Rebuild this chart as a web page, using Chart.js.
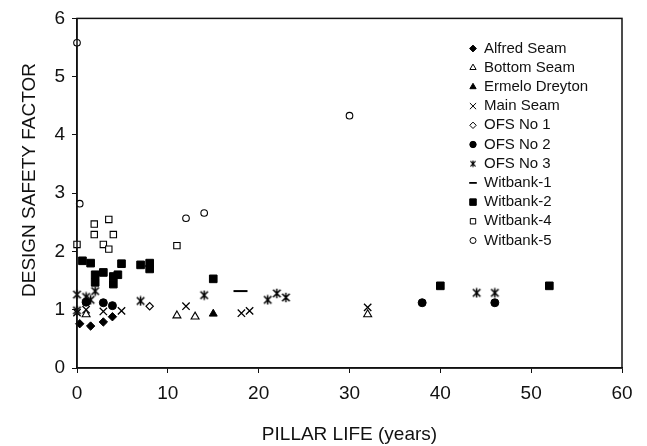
<!DOCTYPE html>
<html>
<head>
<meta charset="utf-8">
<script src="https://cdn.jsdelivr.net/npm/chart.js@4.4.1/dist/chart.umd.min.js"></script>
<style>
  html, body { margin: 0; padding: 0; background: #fff; }
  #chart { display: block; }
</style>
</head>
<body>
<canvas id="chart" width="647" height="446"></canvas>
<script>
// Datos (vida del pilar en años, factor de seguridad)
const seriesNames = ['Alfred Seam', 'Bottom Seam', 'Ermelo Dreyton', 'Main Seam', 'OFS No 1',
    'OFS No 2', 'OFS No 3', 'Witbank-1', 'Witbank-2', 'Witbank-4', 'Witbank-5'];

const alfredX = [0.3, 1.5, 2.9, 3.9];
const alfredY = [0.76, 0.72, 0.79, 0.88];

const bottomX = [1.0, 11, 13, 32];
const bottomY = [0.92, 0.90, 0.88, 0.92];

const ermeloX = [15];
const ermeloY = [0.93];

const mainX = [0, 1.0, 2.9, 4.9, 12, 18.1, 19, 32];
const mainY = [0.95, 1.0, 0.97, 0.98, 1.06, 0.94, 0.98, 1.04];

const ofs1X = [8];
const ofs1Y = [1.06];

const ofs2X = [1.0, 2.9, 3.9, 38, 46];
const ofs2Y = [1.13, 1.12, 1.07, 1.12, 1.12];

const ofs3X = [0, 0, 1.0, 1.5, 2.0, 7, 14, 21, 22, 23, 44, 46];
const ofs3Y = [1.26, 0.99, 1.22, 1.17, 1.32, 1.15, 1.25, 1.17, 1.28, 1.21, 1.29, 1.29];

const wit1X = [18];
const wit1Y = [1.32];

const wit2X = [0.6, 1.5, 2.0, 2.0, 2.9, 4.0, 4.0, 4.5, 4.9, 7.0, 8.0, 8.0, 15, 40, 52];
const wit2Y = [1.84, 1.80, 1.60, 1.47, 1.64, 1.57, 1.44, 1.60, 1.79, 1.77, 1.80, 1.70, 1.53, 1.41, 1.41];

const wit4X = [0, 1.9, 1.9, 2.9, 3.5, 3.5, 4.0, 11];
const wit4Y = [2.12, 2.47, 2.29, 2.12, 2.55, 2.04, 2.29, 2.10];

const wit5X = [0, 0.3, 12, 14, 30];
const wit5Y = [5.58, 2.82, 2.57, 2.66, 4.33];

const xTicks = [0, 10, 20, 30, 40, 50, 60];
const yTicks = [0, 1, 2, 3, 4, 5, 6];
const xTitle = 'PILLAR LIFE (years)';
const yTitle = 'DESIGN SAFETY FACTOR';

const allX = [alfredX, bottomX, ermeloX, mainX, ofs1X, ofs2X, ofs3X, wit1X, wit2X, wit4X, wit5X];
const allY = [alfredY, bottomY, ermeloY, mainY, ofs1Y, ofs2Y, ofs3Y, wit1Y, wit2Y, wit4Y, wit5Y];

// Marcador tipo asterisco (x con barra vertical)
function makeStar(size, lw) {
    const c = document.createElement('canvas');
    c.width = size;
    c.height = size;
    const g = c.getContext('2d');
    g.strokeStyle = '#000';
    g.lineWidth = lw;
    const m = size / 2, r = size / 2 - 0.8;
    g.beginPath();
    g.moveTo(m - r * 0.8, m - r * 0.8); g.lineTo(m + r * 0.8, m + r * 0.8);
    g.moveTo(m + r * 0.8, m - r * 0.8); g.lineTo(m - r * 0.8, m + r * 0.8);
    g.moveTo(m, m - r); g.lineTo(m, m + r);
    g.stroke();
    return c;
}
const starBig = makeStar(11, 1.5);
const starSmall = makeStar(8, 1.2);

// Estilos de cada serie (grafico y leyenda)
const styles = [
    { style: 'rectRot', r: 4.2, fill: '#000', lw: 1, lr: 3.4 },
    { style: 'triangle', r: 4.6, fill: '#fff', lw: 1.1, lr: 3.6 },
    { style: 'triangle', r: 4.6, fill: '#000', lw: 1, lr: 3.6 },
    { style: 'crossRot', r: 5.2, fill: '#000', lw: 1.3, lr: 4.4 },
    { style: 'rectRot', r: 3.7, fill: '#fff', lw: 1.1, lr: 3.2 },
    { style: 'circle', r: 4, fill: '#000', lw: 1, lr: 3.2 },
    { style: starBig, r: 5.5, fill: '#000', lw: 1, lr: 4, legendStyle: starSmall },
    { style: 'line', r: 7, fill: '#000', lw: 2, lr: 3.8 },
    { style: 'rect', r: 5.4, fill: '#000', lw: 1, lr: 4.6 },
    { style: 'rect', r: 4.5, fill: '#fff', lw: 1.1, lr: 3.8 },
    { style: 'circle', r: 3.3, fill: '#fff', lw: 1.1, lr: 3 }
];

const datasets = seriesNames.map((name, i) => ({
    label: name,
    data: allX[i].map((x, j) => ({ x: x, y: allY[i][j] })),
    pointStyle: styles[i].style,
    pointRadius: styles[i].r,
    pointBackgroundColor: styles[i].fill,
    pointBorderColor: '#000',
    pointBorderWidth: styles[i].lw,
    showLine: false,
    clip: false
}));

const fontFamily = '"Liberation Sans", Arial, sans-serif';

// Leyenda dentro del area del grafico, marco completo y titulo vertical
const boxAndLegend = {
    id: 'boxAndLegend',
    afterDraw(chart) {
        const ctx = chart.ctx;
        const a = chart.chartArea;
        ctx.save();
        ctx.strokeStyle = '#111';
        ctx.lineWidth = 1.5;
        ctx.strokeRect(a.left, a.top, a.right - a.left, a.bottom - a.top);

        // titulo del eje y (un poco por encima del centro, como en la figura)
        ctx.save();
        ctx.translate(30, 180);
        ctx.rotate(-Math.PI / 2);
        ctx.font = '19px ' + fontFamily;
        ctx.fillStyle = '#111';
        ctx.textAlign = 'center';
        ctx.textBaseline = 'middle';
        ctx.fillText(yTitle, 0, 0);
        ctx.restore();

        const mx = 473, tx = 484, y0 = 48.5, dy = 19.2;
        ctx.font = '15px ' + fontFamily;
        ctx.textBaseline = 'middle';
        ctx.textAlign = 'left';
        seriesNames.forEach((name, i) => {
            const s = styles[i];
            const y = y0 + i * dy;
            ctx.fillStyle = s.fill;
            ctx.strokeStyle = '#000';
            ctx.lineWidth = s.style === 'line' ? 1.8 : 1;
            Chart.helpers.drawPoint(ctx, {
                pointStyle: s.legendStyle || s.style,
                radius: s.lr,
                rotation: 0,
                borderWidth: 1
            }, mx, y);
            ctx.fillStyle = '#111';
            ctx.fillText(name, tx, y);
        });
        ctx.restore();
    }
};

const tickFont = { family: fontFamily, size: 19 };

new Chart(document.getElementById('chart').getContext('2d'), {
    type: 'scatter',
    data: { datasets: datasets },
    options: {
        responsive: false,
        animation: false,
        events: [],
        layout: { padding: { top: 15, right: 25, left: 0, bottom: 0 } },
        plugins: {
            legend: { display: false },
            tooltip: { enabled: false }
        },
        scales: {
            x: {
                type: 'linear',
                min: xTicks[0],
                max: xTicks[xTicks.length - 1],
                afterFit: s => { s.height = 78; },
                afterBuildTicks: s => { s.ticks = xTicks.map(v => ({ value: v })); },
                grid: { display: true, drawOnChartArea: false, drawTicks: true, tickLength: 5, color: '#111', lineWidth: 1 },
                border: { display: true, color: '#111', width: 1.5 },
                ticks: { color: '#111', font: tickFont, padding: 9, maxRotation: 0 },
                title: {
                    display: true,
                    text: xTitle,
                    color: '#111',
                    font: tickFont,
                    padding: { top: 0, bottom: 0 }
                }
            },
            y: {
                type: 'linear',
                min: yTicks[0],
                max: yTicks[yTicks.length - 1],
                afterFit: s => { s.width = 77; },
                afterBuildTicks: s => { s.ticks = yTicks.map(v => ({ value: v })); },
                grid: { display: true, drawOnChartArea: false, drawTicks: true, tickLength: 5, color: '#111', lineWidth: 1 },
                border: { display: true, color: '#111', width: 1.5 },
                ticks: { color: '#111', font: tickFont, padding: 7 },
                title: { display: false }
            }
        }
    },
    plugins: [boxAndLegend]
});
</script>
</body>
</html>
